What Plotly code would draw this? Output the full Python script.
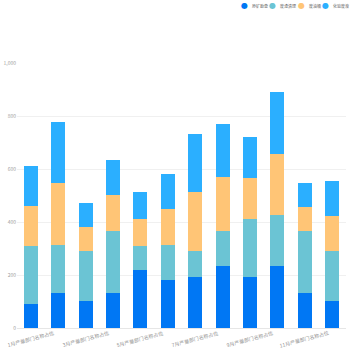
import plotly.graph_objects as go

# Monthly production share per department (stacked)
categories = [f"{m}月产量部门名称占位" for m in range(1, 13)]
series_names = ["原矿勘查", "废渣清理", "废油桶", "化验废液"]
s_ore = [89, 131, 102, 133, 220, 182, 191, 234, 191, 234, 132, 102]
s_slag = [220, 183, 190, 234, 91, 132, 101, 133, 220, 191, 233, 190]
s_oil = [151, 233, 90, 134, 102, 135, 220, 203, 154, 233, 92, 132]
s_lab = [150, 232, 90, 132, 99, 133, 221, 201, 154, 233, 89, 132]
series_values = [s_ore, s_slag, s_oil, s_lab]
colors = ["#0077F4", "#6BC4D4", "#FFC576", "#2BAFFF"]
y_ticks = [0, 200, 400, 600, 800, 1000]

FONT = "Noto Sans CJK SC, Noto Sans, sans-serif"

fig = go.Figure()
for name, vals, col in zip(series_names, series_values, colors):
    fig.add_trace(go.Bar(
        x=categories, y=vals, name=name,
        marker=dict(color=col, line=dict(width=0)),
        showlegend=False,
    ))

# Rotated category labels, every other month, centred under the bars
for i in range(0, len(categories), 2):
    fig.add_annotation(
        x=categories[i], xref="x", y=-0.042, yref="paper",
        text=categories[i], showarrow=False, textangle=-15,
        font=dict(size=5, color="#8f8f8f", family=FONT),
        xanchor="center", yanchor="middle",
    )

# Legend row in the top-right corner
PL, PW, PT, PH = 16.5, 330.0, 63.0, 265.3
def px_x(p):
    return (p - PL) / PW
def px_y(p):
    return (PT + PH - p) / PH

legend_x = [245, 273, 302, 326]
for lx, name, col in zip(legend_x, series_names, colors):
    fig.add_annotation(
        x=px_x(lx), xref="paper", y=px_y(5.5), yref="paper",
        text="●", showarrow=False, xanchor="center", yanchor="middle",
        font=dict(size=8, color=col, family="DejaVu Sans"),
    )
    fig.add_annotation(
        x=px_x(lx + 5), xref="paper", y=px_y(5.5), yref="paper",
        text=name, showarrow=False, xanchor="left", yanchor="middle",
        font=dict(size=4, color="#666666", family=FONT),
    )

fig.update_layout(
    barmode="stack",
    bargap=0.49,
    width=350, height=350,
    margin=dict(l=PL, r=350 - PL - PW, t=PT, b=350 - PT - PH, pad=0, autoexpand=False),
    paper_bgcolor="white", plot_bgcolor="white",
    font=dict(family=FONT),
    xaxis=dict(
        type="category", range=[-0.5, len(categories) - 0.5],
        showticklabels=False, ticks="",
        showline=True, linecolor="#e6e6e6", linewidth=1,
        showgrid=False, zeroline=False, automargin=False,
    ),
    yaxis=dict(
        range=[0, 1000], tickvals=y_ticks, tickformat=",",
        tickfont=dict(size=5, color="#a0a0a0", family=FONT),
        showgrid=True, gridcolor="#f0f0f0", gridwidth=1,
        zeroline=False, showline=False, ticks="", automargin=False,
    ),
)

fig.write_html("out.html")
